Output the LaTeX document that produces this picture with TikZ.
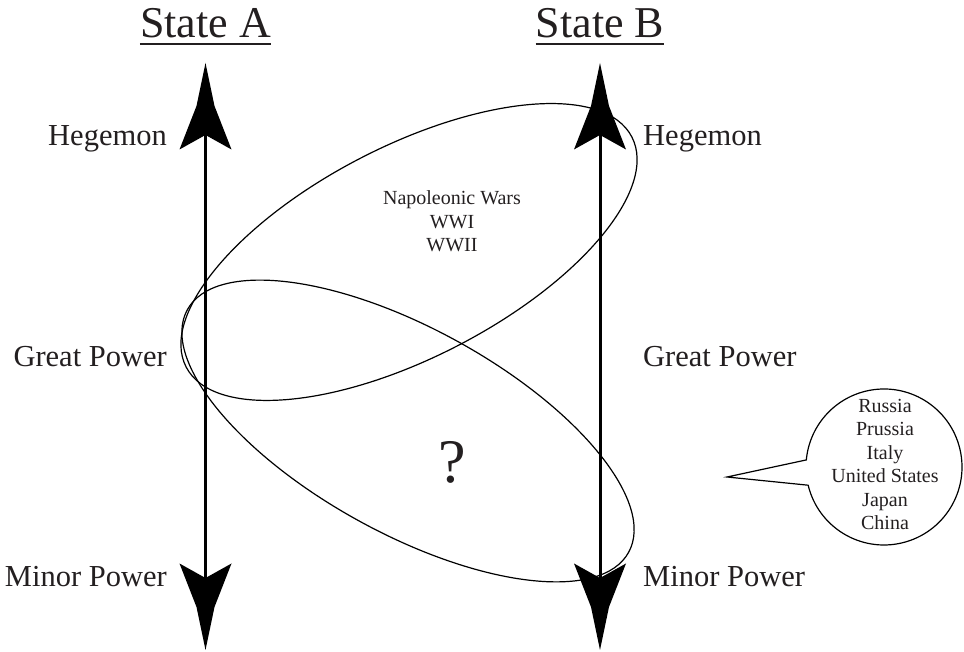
\documentclass[tikz,border=0pt]{standalone}
\usepackage{fontspec}
\setmainfont{Liberation Serif}
\definecolor{ink}{RGB}{35,31,32}
\begin{document}
\begin{tikzpicture}[x=1pt,y=1pt,
  lbl/.style={font=\fontsize{30.5}{36}\selectfont, inner sep=0pt, text=ink},
  ttl/.style={font=\fontsize{44}{50}\selectfont, inner sep=0pt, text=ink},
  small/.style={font=\fontsize{20}{23.5}\selectfont, align=center, inner sep=0pt, text=ink},
  thinline/.style={line width=1.2pt, draw=black},
  shaft/.style={line width=3pt, draw=black},
  bighead/.pic={\fill[black] (0,0) -- (9,-43) -- (26,-86.5) -- (0,-72) -- (-26,-86.5) -- (-9,-43) -- cycle;}
]
\useasboundingbox (0,0) rectangle (964,652);
% axes
\coordinate (Atop) at (205.5,589);
\coordinate (Abot) at (205.5,2);
\coordinate (Btop) at (600,589);
\coordinate (Bbot) at (600,2);
\draw[shaft] ([yshift=-70]Atop) -- ([yshift=70]Abot);
\draw[shaft] ([yshift=-70]Btop) -- ([yshift=70]Bbot);
\pic at (Atop) {bighead};
\pic[rotate=180] at (Abot) {bighead};
\pic at (Btop) {bighead};
\pic[rotate=180] at (Bbot) {bighead};
% titles
\node[ttl, anchor=base] (sa) at (205.5,614) {State A};
\node[ttl, anchor=base] (sb) at (600,614) {State B};
\draw[line width=2pt, ink] ([yshift=-6]sa.base west) -- ([yshift=-6]sa.base east);
\draw[line width=2pt, ink] ([yshift=-6]sb.base west) -- ([yshift=-6]sb.base east);
% labels
\node[lbl, anchor=base east] (ah) at (167,506) {Hegemon};
\node[lbl, anchor=base east] (ag) at (167,285) {Great Power};
\node[lbl, anchor=base east] (am) at (167,65) {Minor Power};
\node[lbl, anchor=base west] (bh) at (643,506) {Hegemon};
\node[lbl, anchor=base west] (bg) at (643,285) {Great Power};
\node[lbl, anchor=base west] (bm) at (643,65) {Minor Power};
% ellipses
\draw[thinline, rotate around={27.3:(409,400)}] (409,400) ellipse [x radius=250.8, y radius=105.6];
\draw[thinline, rotate around={-28.8:(408,221)}] (408,221) ellipse [x radius=251.8, y radius=102.4];
\node[small] (wars) at (452,430.3) {Napoleonic Wars\\WWI\\WWII};
\node[font=\fontsize{62}{70}\selectfont, inner sep=0pt, text=ink, anchor=base] (q) at (452,169) {?};
% bubble
\coordinate (tip) at (727,175);
\coordinate (bc) at (884,185);
\draw[thinline] (tip) -- ([shift={(193.5:78)}]bc) arc[start angle=193.5, end angle=534.8, radius=78] -- cycle;
\node[small] (list) at (885,187.6) {Russia\\Prussia\\Italy\\United States\\Japan\\China};
\end{tikzpicture}
\end{document}
